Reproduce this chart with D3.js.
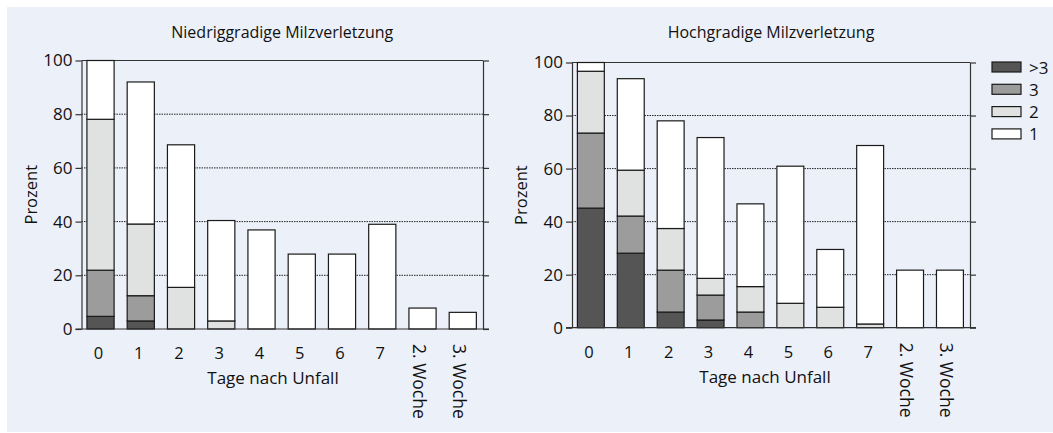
<!DOCTYPE html>
<html>
<head>
<meta charset="utf-8">
<script src="https://cdn.jsdelivr.net/npm/d3@7"></script>
<style>
  body { margin: 0; background: #fff; }
  svg { display: block; font-family: "Open Sans", "Noto Sans", sans-serif; }
</style>
</head>
<body>
<div id="chart"></div>
<script>
// categories and grades
const categories = ['0', '1', '2', '3', '4', '5', '6', '7', '2. Woche', '3. Woche'];
const grades = ['>3', '3', '2', '1'];
const yTicks = [0, 20, 40, 60, 80, 100];

// niedriggradige Milzverletzung: Anteil je Grad (Prozent)
const lowGt3 = [4.7, 3.0, 0, 0, 0, 0, 0, 0, 0, 0];
const low3   = [17.2, 9.4, 0, 0, 0, 0, 0, 0, 0, 0];
const low2   = [56.2, 26.7, 15.5, 3.0, 0, 0, 0, 0, 0, 0];
const low1   = [21.9, 52.9, 53.1, 37.4, 36.9, 27.9, 27.9, 39.0, 7.8, 6.2];

// hochgradige Milzverletzung
const highGt3 = [45.1, 28.1, 5.9, 2.9, 0, 0, 0, 0, 0, 0];
const high3   = [28.3, 14.0, 15.8, 9.4, 5.9, 0, 0, 0, 0, 0];
const high2   = [23.3, 17.3, 15.7, 6.3, 9.6, 9.2, 7.7, 1.4, 0, 0];
const high1   = [3.3, 34.5, 40.6, 53.1, 31.2, 51.7, 21.8, 67.3, 21.7, 21.7];

const colors = { '>3': '#555555', '3': '#9c9c9c', '2': '#e0e1e1', '1': '#ffffff' };

const W = 1053, H = 433;
const svg = d3.select('#chart').append('svg')
  .attr('width', W)
  .attr('height', H);

// panel background
svg.append('rect')
  .attr('x', 7).attr('y', 7)
  .attr('width', W - 7).attr('height', 425)
  .attr('fill', '#ecf0f9');

function buildRows(s1, s2, s3, s4) {
  return categories.map((c, i) => ({ cat: c, '>3': s1[i], '3': s2[i], '2': s3[i], '1': s4[i] }));
}

function drawChart(opts) {
  const { left, right, top, bottom, title, rows, labelX } = opts;

  const x = d3.scaleBand()
    .domain(categories)
    .range([left, right])
    .paddingInner(0.325)
    .paddingOuter(0.15)
    .align(0.45);
  const y = d3.scaleLinear().domain([0, 100]).range([bottom, top]);

  const g = svg.append('g');

  // dotted grid
  g.selectAll('.grid')
    .data(yTicks.filter(t => t > 0 && t < 100))
    .enter().append('line')
    .attr('x1', left).attr('x2', right)
    .attr('y1', d => y(d)).attr('y2', d => y(d))
    .attr('stroke', '#222')
    .attr('stroke-width', 1)
    .attr('stroke-dasharray', '1.5,1');

  // top frame line
  g.append('line')
    .attr('x1', left).attr('x2', right)
    .attr('y1', y(100)).attr('y2', y(100))
    .attr('stroke', '#333').attr('stroke-width', 1.2);

  // stacked bars
  const stack = d3.stack().keys(grades);
  const series = stack(rows);
  g.selectAll('.layer')
    .data(series)
    .enter().append('g')
    .attr('fill', d => colors[d.key])
    .selectAll('rect')
    .data(d => d.filter(v => v[1] - v[0] > 0))
    .enter().append('rect')
    .attr('x', d => x(d.data.cat))
    .attr('y', d => y(d[1]))
    .attr('width', x.bandwidth())
    .attr('height', d => y(d[0]) - y(d[1]))
    .attr('stroke', '#1a1a1a')
    .attr('stroke-width', 1.2);

  // y axes
  const yAxisL = g.append('g')
    .attr('transform', `translate(${left},0)`)
    .call(d3.axisLeft(y).tickValues(yTicks).tickSize(6).tickSizeOuter(0).tickPadding(3));
  const yAxisR = g.append('g')
    .attr('transform', `translate(${right},0)`)
    .call(d3.axisRight(y).tickValues(yTicks).tickSize(6).tickSizeOuter(0).tickFormat(''));
  [yAxisL, yAxisR].forEach(a => {
    a.attr('font-family', null).attr('font-size', null);
    a.select('.domain').attr('stroke', '#333').attr('stroke-width', 1.2);
    a.selectAll('.tick line').attr('stroke', '#333').attr('stroke-width', 1.2);
  });
  yAxisL.selectAll('.tick text')
    .style('font-size', '17px')
    .attr('fill', '#111');

  // baseline
  g.append('line')
    .attr('x1', left - 6).attr('x2', right + 6)
    .attr('y1', y(0)).attr('y2', y(0))
    .attr('stroke', '#333').attr('stroke-width', 1.2);

  // x labels
  g.selectAll('.xl')
    .data(categories)
    .enter().append('text')
    .attr('font-size', 16.5)
    .attr('fill', '#111')
    .each(function (d) {
      const el = d3.select(this);
      const cx = x(d) + x.bandwidth() / 2;
      if (d.indexOf('Woche') >= 0) {
        el.attr('transform', `translate(${cx - 3},${bottom + 15}) rotate(90)`)
          .attr('dominant-baseline', 'central')
          .attr('text-anchor', 'start')
          .attr('font-size', 17.5)
          .text(d);
      } else {
        el.attr('x', cx - 2).attr('y', bottom + 30)
          .attr('text-anchor', 'middle')
          .text(d);
      }
    });

  g.append('text')
    .attr('x', labelX).attr('y', bottom + 55)
    .attr('text-anchor', 'middle')
    .attr('font-size', 17)
    .attr('fill', '#111')
    .text('Tage nach Unfall');

  g.append('text')
    .attr('transform', `translate(${left - 45},${(top + bottom) / 2}) rotate(-90)`)
    .attr('text-anchor', 'middle')
    .attr('font-size', 16.5)
    .attr('fill', '#111')
    .text('Prozent');

  g.append('text')
    .attr('x', (left + right) / 2).attr('y', 38)
    .attr('text-anchor', 'middle')
    .attr('font-size', 16)
    .attr('fill', '#111')
    .text(title);
}

drawChart({
  left: 81.5, right: 483, top: 60.5, bottom: 329,
  title: 'Niedriggradige Milzverletzung',
  rows: buildRows(lowGt3, low3, low2, low1),
  labelX: 273
});

drawChart({
  left: 572, right: 970, top: 62.5, bottom: 327.7,
  title: 'Hochgradige Milzverletzung',
  rows: buildRows(highGt3, high3, high2, high1),
  labelX: 765
});

// legend
const legend = svg.append('g').attr('transform', 'translate(992,62)');
legend.selectAll('g')
  .data(grades)
  .enter().append('g')
  .attr('transform', (d, i) => `translate(0,${i * 22.3})`)
  .each(function (d) {
    const el = d3.select(this);
    el.append('rect')
      .attr('width', 29).attr('height', 10)
      .attr('fill', colors[d])
      .attr('stroke', '#1a1a1a').attr('stroke-width', 1.2);
    el.append('text')
      .attr('x', 37).attr('y', 5)
      .attr('dominant-baseline', 'central')
      .attr('font-size', 17)
      .attr('fill', '#111')
      .text(d);
  });
</script>
</body>
</html>
